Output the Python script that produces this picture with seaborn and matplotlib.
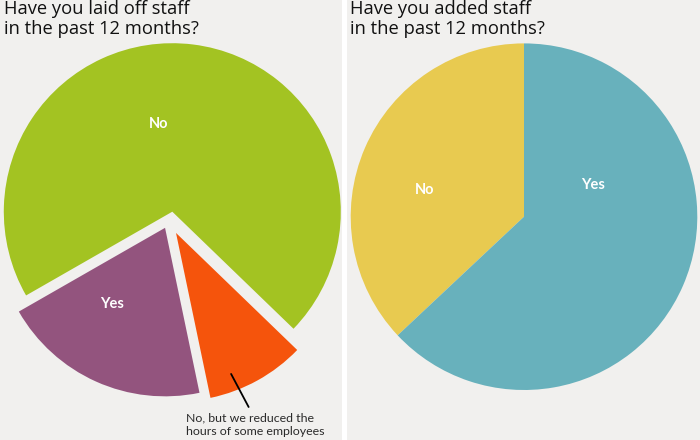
import matplotlib
matplotlib.use("Agg")
import matplotlib.pyplot as plt
from matplotlib.patches import Rectangle
import seaborn as sns

# ---- data ----
left_title = "Have you laid off staff\nin the past 12 months?"
left_labels = ["No", "Yes", "No, but we reduced the\nhours of some employees"]
left_values = [70.5, 20.0, 9.5]
right_title = "Have you added staff\nin the past 12 months?"
right_labels = ["No", "Yes"]
right_values = [37.0, 63.0]

left_colors = ["#a3c322", "#93547e", "#f5540c"]
right_colors = ["#e8ca50", "#68b1bc"]
bg = "#f1f0ee"

sns.set_theme(style="white")
plt.rcParams["font.family"] = ["Lato", "DejaVu Sans"]

W, H = 700, 440
fig = plt.figure(figsize=(7, 4.4), dpi=100, facecolor=bg)
fig.add_artist(Rectangle((342 / W, 0), 5 / W, 1, transform=fig.transFigure,
                         facecolor="white", edgecolor="none", zorder=0))

def make_axes(x0, x1):
    return fig.add_axes([x0 / W, 0, (x1 - x0) / W, 1])

# ---- left pie ----
axL = make_axes(0, 342)
wedgesL, _ = axL.pie(left_values, colors=left_colors, startangle=-44,
                     counterclock=True, explode=[0, 0.105, 0],
                     wedgeprops=dict(linewidth=0), frame=False)
wedgesL[2].set_center((0.022, -0.126))
axL.set_xlim(-172.3 / 168.5, (342 - 172.3) / 168.5)
axL.set_ylim(-(H - 211.7) / 168.5, 211.7 / 168.5)
axL.set_aspect("auto")
axL.axis("off")

lab_kw = dict(color="white", fontsize=10.5, fontweight="bold", ha="center", va="center")
axL.text(-0.079, 0.52, left_labels[0], **lab_kw)
axL.text(-0.36, -0.55, left_labels[1], **lab_kw)
axL.plot([0.349, 0.453], [-0.963, -1.159], color="black", lw=1.3)
axL.text(0.081, -1.19, left_labels[2], color="#2a2a2a", fontsize=8.9,
         ha="left", va="top", linespacing=1.3)

# ---- right pie ----
axR = make_axes(347, 700)
wedgesR, _ = axR.pie(right_values, colors=right_colors, startangle=90,
                     counterclock=True, wedgeprops=dict(linewidth=0), frame=False)
axR.set_xlim(-(524 - 347) / 173.3, (700 - 524) / 173.3)
axR.set_ylim(-(H - 216.7) / 173.3, 216.7 / 173.3)
axR.set_aspect("auto")
axR.axis("off")
axR.text(-0.571, 0.154, right_labels[0], **lab_kw)
axR.text(0.401, 0.183, right_labels[1], **lab_kw)

# ---- titles ----
title_kw = dict(fontsize=13.2, color="#111111", va="top", ha="left",
                linespacing=1.1, family=["Open Sans", "DejaVu Sans"])
fig.text(4 / W, 1 - 0.5 / H, left_title, **title_kw)
fig.text(350 / W, 1 - 0.5 / H, right_title, **title_kw)

fig.savefig("out.png", dpi=100, facecolor=bg)
